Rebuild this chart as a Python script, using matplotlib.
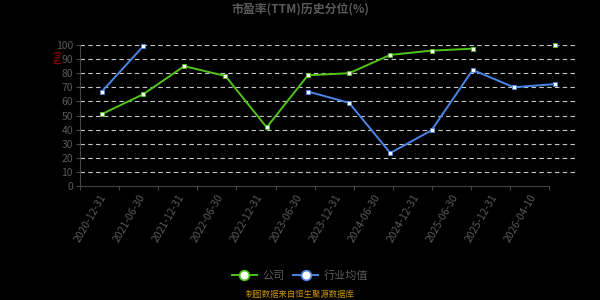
import matplotlib.pyplot as plt
import numpy as np
from matplotlib.lines import Line2D

plt.rcParams['font.family'] = ['Noto Sans CJK SC', 'DejaVu Sans']

dates = ["2020-12-31", "2021-06-30", "2021-12-31", "2022-06-30", "2022-12-31",
         "2023-06-30", "2023-12-31", "2024-06-30", "2024-12-31", "2025-06-30",
         "2025-12-31", "2026-04-10"]
company = [51, 65, 85, 78, 41.6, 78.5, 80, 93, 96, 97.4, None, 100]
industry = [67, 99, None, None, None, 67, 59, 23.4, 39.5, 82.3, 70, 72.3]

GREEN = "#52c41a"
BLUE = "#4a86e8"
GRAY = "#5a5a5a"

def to_arr(vals):
    return np.array([np.nan if v is None else v for v in vals], dtype=float)

fig = plt.figure(figsize=(6, 3), dpi=100, facecolor="black")
ax = fig.add_axes([80 / 600, 1 - 186 / 300, 497 / 600, 141 / 300])
ax.set_facecolor("black")

x = np.arange(len(dates))
ax.plot(x, to_arr(company), color=GREEN, lw=1.4, marker="s", ms=2.8,
        mfc="white", mec=GREEN, mew=0.6, clip_on=False, zorder=3, label="公司")
ax.plot(x, to_arr(industry), color=BLUE, lw=1.4, marker="s", ms=2.8,
        mfc="white", mec=BLUE, mew=0.6, clip_on=False, zorder=3, label="行业均值")

ax.set_xlim(-0.53, 11.53)
ax.set_ylim(0, 100)
ax.set_yticks(range(0, 101, 10))
for yv in range(10, 101, 10):
    ax.axhline(yv, color="#c8c8c8", lw=0.8, ls=(0, (4, 3)), zorder=1)
ax.tick_params(axis="y", colors="#444444", labelcolor=GRAY, labelsize=7.5,
               length=3, width=0.8, pad=2)
ax.set_xticks([])
for s in ["top", "right", "bottom"]:
    ax.spines[s].set_visible(False)
ax.spines["left"].set_color("#444444")
ax.spines["left"].set_linewidth(0.8)

# category axis along the bottom
bx = ax.twiny()
bx.set_xlim(0, 497 / 39.1)
bx.xaxis.set_ticks_position("bottom")
bx.xaxis.set_label_position("bottom")
bx.spines["bottom"].set_position(("axes", 0))
bx.spines["bottom"].set_bounds(0, len(dates))
bx.spines["bottom"].set_color("#444444")
bx.spines["bottom"].set_linewidth(0.8)
for s in ["top", "right", "left"]:
    bx.spines[s].set_visible(False)
bx.set_xticks(np.arange(len(dates) + 1))
bx.set_xticklabels([])
bx.set_xticks(np.arange(len(dates)) + 0.5, minor=True)
bx.set_xticklabels(dates, minor=True, rotation=60, ha="right",
                   rotation_mode="anchor", fontsize=7.5, color=GRAY)
bx.tick_params(axis="x", which="major", colors="#444444", length=3, width=0.8)
bx.tick_params(axis="x", which="minor", length=0, pad=5)

fig.text(0.5, 0.97, "市盈率(TTM)历史分位(%)", ha="center", va="center",
         fontsize=8.6, fontweight="bold", color=GRAY)
fig.text(58 / 600, 1 - 57 / 300, "(%)", rotation=90, ha="center", va="center",
         fontsize=6, fontweight="bold", color="#b00000")

handles = [Line2D([], [], color=GREEN, lw=1.4, marker="o", ms=7, mfc="white", mec=GREEN, mew=1.2),
           Line2D([], [], color=BLUE, lw=1.4, marker="o", ms=7, mfc="white", mec=BLUE, mew=1.2)]
leg = fig.legend(handles, ["公司", "行业均值"], loc="center", bbox_to_anchor=(0.5, 1 - 276 / 300),
                 ncol=2, frameon=False, fontsize=8, labelcolor=GRAY,
                 handlelength=2.2, columnspacing=0.8, handletextpad=0.5)

fig.text(0.5, 1 - 294 / 300, "制图数据来自恒生聚源数据库", ha="center", va="center",
         fontsize=6, color="#c8900a")

fig.savefig("out.png", dpi=100, facecolor="black")
